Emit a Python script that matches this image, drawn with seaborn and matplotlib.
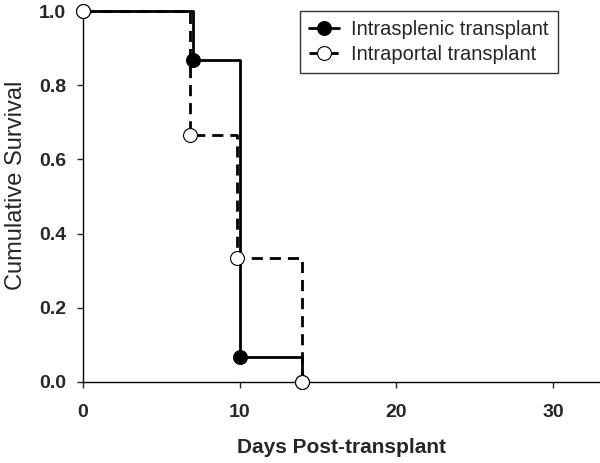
import matplotlib
matplotlib.use('Agg')
import matplotlib.pyplot as plt
import seaborn as sns
import pandas as pd

# Kaplan-Meier curves
splenic_days = [0, 7, 10, 14]
splenic_surv = [1.0, 0.867, 0.067, 0.0]
portal_days = [0, 6.85, 9.85, 14]
portal_surv = [1.0, 0.667, 0.333, 0.0]

x_ticks = [0, 10, 20, 30]
y_ticks = [0.0, 0.2, 0.4, 0.6, 0.8, 1.0]

sns.set_style('ticks')
plt.rcParams['font.family'] = ['Liberation Sans', 'DejaVu Sans']

splenic = pd.DataFrame({'day': splenic_days, 'surv': splenic_surv})
portal = pd.DataFrame({'day': portal_days, 'surv': portal_surv})

fig = plt.figure(figsize=(6, 4.63), dpi=100)
ax = fig.add_axes([0.138, 0.175, 0.862, 0.801])

sns.lineplot(data=splenic, x='day', y='surv', ax=ax, drawstyle='steps-post',
             color='black', lw=2, marker='o', markersize=10,
             markerfacecolor='black', markeredgecolor='black',
             label='Intrasplenic transplant', clip_on=False, zorder=3)
sns.lineplot(data=portal, x='day', y='surv', ax=ax, drawstyle='steps-post',
             color='black', lw=2, linestyle=(0, (4, 2.5)), marker='o', markersize=10,
             markerfacecolor='white', markeredgecolor='black', markeredgewidth=0.8,
             label='Intraportal transplant', clip_on=False, zorder=4)

ax.set_xlim(0, 33)
ax.set_ylim(0, 1.0)
ax.set_xticks(x_ticks)
ax.set_yticks(y_ticks)
ax.set_yticklabels([f'{v:.1f}' for v in y_ticks])
ax.tick_params(direction='out', length=4, width=1, labelsize=14)
ax.tick_params(axis='x', pad=12)
ax.tick_params(axis='y', pad=8)
for lab in ax.get_xticklabels() + ax.get_yticklabels():
    lab.set_fontweight('bold')
ax.set_xlabel('Days Post-transplant', fontsize=15, fontweight='bold', labelpad=12)
ax.set_ylabel('Cumulative Survival', fontsize=17)
ax.yaxis.set_label_coords(-0.108, 0.53)
for s in ['left', 'bottom']:
    ax.spines[s].set_linewidth(1)
    ax.spines[s].set_color('black')
sns.despine(ax=ax)

leg = ax.legend(loc='upper left', bbox_to_anchor=(0.42, 1.0), fontsize=14.5,
                frameon=True, fancybox=False, edgecolor='black',
                handlelength=1.5, handletextpad=0.6, borderpad=0.45,
                labelspacing=0.3, borderaxespad=0)
leg.get_frame().set_linewidth(1)

fig.savefig('out.png', dpi=100)
